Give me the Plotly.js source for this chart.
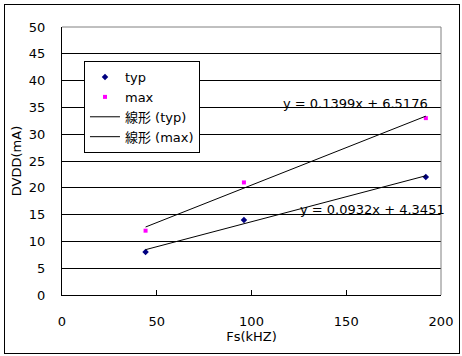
<!DOCTYPE html>
<html><head><meta charset="utf-8">
<script src="https://cdn.plot.ly/plotly-3.0.1.min.js"></script>
<style>
html,body{margin:0;padding:0;background:#fff;}
#wrap{position:relative;width:462px;height:356px;}
#chart{position:absolute;left:0;top:0;width:462px;height:356px;}
#frame{position:absolute;left:4px;top:4px;width:454px;height:348px;border:1px solid #000;pointer-events:none;}
</style></head>
<body>
<div id="wrap"><div id="chart"></div><div id="frame"></div></div>
<script>
var fs = [44.1, 96, 192];
var typ = [8, 14, 22];
var max = [12, 21, 33];
var seriesNames = ['typ', 'max', '線形 (typ)', '線形 (max)'];
var eqTyp = 'y = 0.0932x + 4.3451';
var eqMax = 'y = 0.1399x + 6.5176';
var xTicks = [0, 50, 100, 150, 200];
var yTicks = [0, 5, 10, 15, 20, 25, 30, 35, 40, 45, 50];

function fit(xs, ys) {
  var n = xs.length, mx = 0, my = 0;
  for (var i = 0; i < n; i++) { mx += xs[i]; my += ys[i]; }
  mx /= n; my /= n;
  var sxy = 0, sxx = 0;
  for (var j = 0; j < n; j++) { sxy += (xs[j]-mx)*(ys[j]-my); sxx += (xs[j]-mx)*(xs[j]-mx); }
  var m = sxy / sxx, b = my - m*mx;
  var x0 = Math.min.apply(null, xs), x1 = Math.max.apply(null, xs);
  return {x: [x0, x1], y: [m*x0 + b, m*x1 + b]};
}
var fTyp = fit(fs, typ), fMax = fit(fs, max);

var font = 'DejaVu Sans, Noto Sans CJK JP, sans-serif';
var data = [
  {x: fs, y: typ, name: seriesNames[0], mode: 'markers', type: 'scatter',
   marker: {symbol: 'diamond', size: 5, color: '#000080'}},
  {x: fs, y: max, name: seriesNames[1], mode: 'markers', type: 'scatter',
   marker: {symbol: 'square', size: 4, color: '#FF00FF'}},
  {x: fTyp.x, y: fTyp.y, name: seriesNames[2], mode: 'lines', type: 'scatter',
   line: {color: '#000', width: 1}},
  {x: fMax.x, y: fMax.y, name: seriesNames[3], mode: 'lines', type: 'scatter',
   line: {color: '#000', width: 1}}
];
var layout = {
  width: 462, height: 356,
  margin: {l: 62, r: 21, t: 27, b: 61},
  paper_bgcolor: '#fff', plot_bgcolor: '#fff',
  font: {family: font, size: 13, color: '#000'},
  showlegend: true,
  legend: {x: 0.058, y: 0.873, xanchor: 'left', yanchor: 'top',
    bgcolor: '#fff', bordercolor: '#000', borderwidth: 1,
    font: {family: font, size: 13, color: '#000'}, tracegroupgap: 0},
  xaxis: {range: [0, 200], tickvals: xTicks, showgrid: false, zeroline: false,
    showline: true, linecolor: '#000', linewidth: 1,
    ticks: 'inside', ticklen: 5, tickcolor: '#000', ticklabelstandoff: 14,
    tickfont: {family: font, size: 13},
    title: {text: 'Fs(kHZ)', font: {family: font, size: 13}, standoff: 4}},
  yaxis: {range: [0, 50], tickvals: yTicks, showgrid: true, gridcolor: '#000', gridwidth: 1,
    zeroline: false, showline: true, linecolor: '#000', linewidth: 1,
    ticks: 'inside', ticklen: 5, tickcolor: '#000', ticklabelstandoff: 13,
    tickfont: {family: font, size: 13},
    title: {text: 'DVDD(mA)', font: {family: font, size: 13}, standoff: 4}},
  shapes: [
    {type: 'line', xref: 'paper', yref: 'paper', x0: 0, x1: 1, y0: 1, y1: 1,
     line: {color: '#808080', width: 1}, layer: 'above'},
    {type: 'line', xref: 'paper', yref: 'paper', x0: 1, x1: 1, y0: 0, y1: 1,
     line: {color: '#808080', width: 1}, layer: 'above'}
  ],
  annotations: [
    {x: 155, y: 35.7, xref: 'x', yref: 'y', text: eqMax, showarrow: false,
     font: {family: font, size: 13}},
    {x: 164, y: 15.9, xref: 'x', yref: 'y', text: eqTyp, showarrow: false,
     font: {family: font, size: 13}}
  ]
};
Plotly.newPlot('chart', data, layout, {staticPlot: true, displayModeBar: false});
</script>
</body></html>
